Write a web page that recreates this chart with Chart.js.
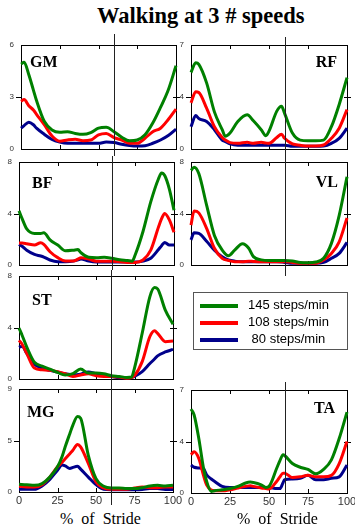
<!DOCTYPE html>
<html lang="en">
<head>
    <meta charset="UTF-8"/>
    <title>Walking at 3 # speeds</title>
    <script src="https://cdn.jsdelivr.net/npm/chart.js"></script>
    <style>
        html, body {
            margin: 0;
            padding: 0;
            background: #fff;
        }

        body {
            width: 355px;
            height: 531px;
            position: relative;
            overflow: hidden;
        }

        .title {
            position: absolute;
            left: 97px;
            top: 3px;
            font: bold 22.5px "Liberation Serif", "Times New Roman", serif;
            white-space: nowrap;
        }

        .panel {
            position: absolute;
        }

        .panel canvas {
            display: block;
        }

        .xlabel {
            position: absolute;
            top: 510px;
            font: 16px "Liberation Serif", "Times New Roman", serif;
            word-spacing: 4px;
            white-space: nowrap;
        }

        .legend {
            position: absolute;
            left: 193px;
            top: 292px;
            width: 155px;
            height: 58px;
            border: 1px solid #555;
            box-sizing: border-box;
            padding-top: 3px;
            font: 13px "Liberation Sans", Arial, sans-serif;
        }

        .legend .row {
            height: 17px;
            line-height: 17px;
            white-space: pre;
        }

        .legend .swatch {
            display: inline-block;
            width: 38px;
            height: 4px;
            margin: 0 10px 0 6px;
            vertical-align: middle;
        }
    </style>
</head>
<body>
<div class="title">Walking at 3 # speeds</div>
<div id="charts"></div>
<div class="legend" id="legend"></div>
<div class="xlabel" style="left:60px;">% of Stride</div>
<div class="xlabel" style="left:237px;">% of Stride</div>

<script>
    // speeds (series) and their colours
    const SPEEDS = ['145 steps/min', '108 steps/min', '80 steps/min'];
    const COLORS = ['#008000', '#ff0000', '#00008b'];
    const STRIDE_TICKS = [0, 25, 50, 75, 100];
    const TOE_OFF = 60;

    // EMG envelopes, % of stride vs activation
    const GM_X = [0, 2, 5, 8, 10, 15, 20, 25, 30, 35, 40, 45, 50, 55, 60, 65, 70, 75, 80, 85, 90, 95, 100];
    const GM_145 = [4.9, 5.0, 4.3, 3.4, 2.8, 1.6, 1.1, 0.97, 1.0, 0.9, 0.85, 0.95, 1.2, 1.25, 1.0, 0.68, 0.47, 0.52, 0.82, 1.5, 2.4, 3.4, 4.8];
    const GM_108 = [2.75, 2.85, 2.5, 2.25, 2.0, 1.4, 0.75, 0.45, 0.52, 0.56, 0.48, 0.52, 0.82, 0.9, 0.66, 0.52, 0.33, 0.33, 0.62, 1.0, 1.2, 1.7, 2.3];
    const GM_80 = [1.2, 1.35, 1.55, 1.4, 1.2, 0.85, 0.55, 0.4, 0.33, 0.33, 0.33, 0.33, 0.33, 0.4, 0.37, 0.27, 0.2, 0.17, 0.19, 0.33, 0.52, 0.78, 1.15];

    const RF_X = [0, 3, 5, 10, 15, 20, 22, 25, 30, 36, 40, 45, 48, 50, 55, 58, 60, 65, 70, 75, 80, 85, 90, 95, 100];
    const RF_145 = [5.15, 5.8, 5.7, 4.45, 2.5, 1.3, 0.85, 1.07, 1.85, 2.3, 1.9, 1.3, 0.9, 1.2, 2.55, 2.88, 2.4, 1.07, 0.6, 0.55, 0.55, 0.6, 1.5, 3.0, 4.8];
    const RF_108 = [3.1, 3.85, 3.8, 2.75, 1.5, 0.77, 0.6, 0.43, 0.38, 0.45, 0.38, 0.45, 0.4, 0.38, 0.77, 1.0, 0.72, 0.34, 0.25, 0.2, 0.2, 0.27, 0.72, 1.4, 2.65];
    const RF_80 = [1.5, 2.25, 2.05, 1.85, 1.3, 0.6, 0.5, 0.34, 0.25, 0.25, 0.25, 0.25, 0.25, 0.25, 0.25, 0.25, 0.25, 0.18, 0.18, 0.18, 0.18, 0.2, 0.38, 0.72, 1.4];

    const BF_X = [0, 2, 5, 10, 14, 16, 20, 25, 30, 35, 38, 40, 45, 50, 55, 60, 65, 70, 73, 75, 80, 85, 90, 92, 94, 97, 100];
    const BF_145 = [4.2, 3.6, 2.8, 2.45, 2.45, 2.5, 1.95, 1.55, 1.1, 1.15, 1.2, 0.95, 0.6, 0.57, 0.6, 0.52, 0.41, 0.35, 0.3, 0.8, 2.6, 4.9, 6.7, 7.15, 6.95, 5.9, 4.25];
    const BF_108 = [1.7, 1.7, 1.65, 1.55, 1.73, 1.6, 1.03, 0.57, 0.31, 0.31, 0.45, 0.57, 0.46, 0.3, 0.3, 0.3, 0.26, 0.2, 0.2, 0.2, 0.39, 1.15, 2.95, 3.6, 4.0, 3.5, 2.55];
    const BF_80 = [1.6, 1.45, 1.15, 0.82, 0.7, 0.62, 0.39, 0.26, 0.26, 0.3, 0.4, 0.46, 0.3, 0.23, 0.23, 0.23, 0.23, 0.23, 0.23, 0.23, 0.3, 0.52, 1.2, 1.5, 1.75, 1.55, 1.55];

    const VL_X = [0, 2, 5, 10, 15, 20, 24, 28, 33, 37, 40, 45, 50, 55, 60, 65, 70, 75, 80, 85, 90, 95, 100];
    const VL_145 = [7.35, 7.6, 7.1, 4.65, 2.3, 1.16, 0.72, 1.16, 1.65, 1.3, 0.65, 0.4, 0.34, 0.34, 0.34, 0.31, 0.2, 0.18, 0.23, 0.52, 1.68, 3.85, 6.85];
    const VL_108 = [3.1, 4.2, 4.05, 2.85, 1.3, 0.52, 0.35, 0.26, 0.26, 0.3, 0.28, 0.26, 0.26, 0.26, 0.26, 0.2, 0.13, 0.13, 0.13, 0.39, 0.9, 1.8, 3.65];
    const VL_80 = [1.95, 2.5, 2.45, 1.85, 1.15, 0.65, 0.4, 0.3, 0.26, 0.26, 0.26, 0.26, 0.26, 0.26, 0.2, 0.13, 0.13, 0.13, 0.13, 0.2, 0.52, 0.9, 1.75];

    const ST_X = [0, 2, 5, 10, 15, 20, 25, 30, 35, 40, 45, 50, 55, 60, 65, 70, 73, 75, 80, 85, 88, 90, 95, 100];
    const ST_145 = [3.95, 3.4, 2.5, 1.3, 1.0, 0.77, 0.51, 0.31, 0.41, 0.77, 0.46, 0.46, 0.41, 0.26, 0.2, 0.12, 0.15, 0.85, 3.55, 6.4, 7.1, 7.0, 5.35, 4.25];
    const ST_108 = [3.0, 2.7, 2.0, 0.85, 0.72, 0.67, 0.57, 0.41, 0.2, 0.31, 0.41, 0.26, 0.2, 0.2, 0.15, 0.05, 0.1, 0.26, 1.35, 3.3, 3.75, 3.55, 2.9, 2.95];
    const ST_80 = [2.45, 2.55, 2.0, 1.15, 0.85, 0.67, 0.54, 0.41, 0.33, 0.38, 0.54, 0.41, 0.28, 0.2, 0.1, 0.1, 0.12, 0.2, 0.57, 1.2, 1.55, 1.8, 2.1, 2.3];

    const MG_X = [0, 5, 10, 15, 20, 25, 28, 30, 33, 35, 38, 40, 45, 50, 55, 60, 65, 70, 75, 80, 85, 90, 95, 100];
    const MG_145 = [0.67, 0.64, 0.58, 0.73, 1.3, 2.2, 3.1, 3.95, 5.1, 5.85, 6.6, 6.45, 3.2, 1.17, 0.5, 0.35, 0.35, 0.3, 0.3, 0.38, 0.53, 0.58, 0.53, 0.58];
    const MG_108 = [0.5, 0.44, 0.44, 0.64, 1.3, 2.2, 2.6, 2.9, 3.35, 3.65, 4.15, 3.95, 2.5, 0.88, 0.35, 0.23, 0.23, 0.23, 0.35, 0.44, 0.38, 0.38, 0.44, 0.44];
    const MG_80 = [0.23, 0.23, 0.23, 0.53, 1.1, 1.9, 2.35, 2.28, 2.05, 2.15, 2.25, 2.0, 1.3, 0.64, 0.23, 0.2, 0.2, 0.2, 0.2, 0.22, 0.3, 0.3, 0.22, 0.22];

    const TA_X = [0, 2, 5, 8, 10, 13, 15, 20, 25, 30, 35, 38, 40, 45, 48, 50, 55, 57, 59, 60, 65, 70, 75, 80, 85, 90, 95, 100];
    const TA_145 = [5.7, 5.3, 3.7, 1.7, 0.8, 0.1, 0.15, 0.22, 0.3, 0.45, 0.68, 0.74, 0.72, 0.56, 0.38, 0.45, 1.7, 2.2, 2.6, 2.55, 2.0, 1.75, 1.6, 1.3, 1.6, 2.25, 3.7, 5.5];
    const TA_108 = [2.6, 2.8, 2.35, 1.2, 0.56, 0.2, 0.15, 0.15, 0.22, 0.34, 0.45, 0.5, 0.45, 0.34, 0.3, 0.27, 0.8, 1.1, 1.35, 1.35, 1.05, 1.1, 1.2, 1.1, 1.1, 1.2, 2.0, 3.5];
    const TA_80 = [1.9, 1.75, 1.7, 1.65, 1.24, 0.95, 0.8, 0.45, 0.38, 0.38, 0.38, 0.38, 0.38, 0.38, 0.38, 0.38, 0.3, 0.3, 0.7, 0.9, 0.95, 1.0, 1.2, 0.9, 0.9, 1.0, 1.1, 1.9];

    // panel placement: canvas box, y-axis width, paddings, name offset
    const PANELS = [
        {name: 'GM', xs: GM_X, ys: [GM_145, GM_108, GM_80], yMax: 6,
            left: 0, top: 34, w: 190, h: 122, axisW: 21, pad: {top: 11, right: 14, bottom: 7}, label: {dx: 9, dy: 22}},
        {name: 'BF', xs: BF_X, ys: [BF_145, BF_108, BF_80], yMax: 8,
            left: 0, top: 156, w: 190, h: 114, axisW: 19, pad: {top: 6, right: 16, bottom: 5}, label: {dx: 13, dy: 26}},
        {name: 'ST', xs: ST_X, ys: [ST_145, ST_108, ST_80], yMax: 8,
            left: 0, top: 270, w: 190, h: 113, axisW: 19, pad: {top: 6, right: 17, bottom: 4}, label: {dx: 13, dy: 29}},
        {name: 'MG', xs: MG_X, ys: [MG_145, MG_108, MG_80], yMax: 9, bottom: true,
            left: 0, top: 383, w: 190, h: 122, axisW: 19, pad: {top: 6, right: 17, bottom: 0}, xAxisH: 13, label: {dx: 8, dy: 28}},
        {name: 'RF', xs: RF_X, ys: [RF_145, RF_108, RF_80], yMax: 7,
            left: 178, top: 37, w: 177, h: 119, axisW: 13, pad: {top: 8, right: 8, bottom: 7}, label: {dx: -10, dy: 22}},
        {name: 'VL', xs: VL_X, ys: [VL_145, VL_108, VL_80], yMax: 8,
            left: 178, top: 156, w: 177, h: 120, axisW: 13, pad: {top: 6, right: 8, bottom: 11}, label: {dx: -9, dy: 25}},
        {name: 'TA', xs: TA_X, ys: [TA_145, TA_108, TA_80], yMax: 7, bottom: true,
            left: 178, top: 382, w: 177, h: 123, axisW: 13, pad: {top: 8, right: 8, bottom: 0}, xAxisH: 12, label: {dx: -12, dy: 23}}
    ];

    const SANS = '"Liberation Sans", Arial, sans-serif';

    // box, inner ticks, muscle name
    const framePlugin = {
        id: 'frame',
        beforeDatasetsDraw(chart, args, opts) {
            const {ctx, chartArea: a} = chart;
            const x = chart.scales.x, y = chart.scales.y;
            ctx.save();
            ctx.strokeStyle = '#000';
            ctx.lineWidth = 1;
            ctx.strokeRect(Math.round(a.left) + 0.5, Math.round(a.top) + 0.5,
                Math.round(a.right - a.left), Math.round(a.bottom - a.top));
            ctx.beginPath();
            [25, 50, 75].forEach(v => {
                const px = Math.round(x.getPixelForValue(v)) + 0.5;
                ctx.moveTo(px, a.top);
                ctx.lineTo(px, a.top + 4);
                ctx.moveTo(px, a.bottom);
                ctx.lineTo(px, a.bottom - 4);
            });
            const mid = Math.round(y.getPixelForValue(y.max / 2)) + 0.5;
            ctx.moveTo(a.left - 5, mid);
            ctx.lineTo(a.left, mid);
            ctx.moveTo(a.right - 3, mid);
            ctx.lineTo(a.right + 4, mid);
            ctx.stroke();

            ctx.fillStyle = '#000';
            ctx.font = 'bold 16px "Liberation Serif", "Times New Roman", serif';
            ctx.textBaseline = 'alphabetic';
            if (opts.dx >= 0) {
                ctx.textAlign = 'left';
                ctx.fillText(opts.name, a.left + opts.dx, a.top + opts.dy);
            } else {
                ctx.textAlign = 'right';
                ctx.fillText(opts.name, a.right + opts.dx, a.top + opts.dy);
            }
            ctx.restore();
        },
        afterDatasetsDraw(chart) {
            // toe-off marker runs the full height of the canvas
            const {ctx} = chart;
            const px = Math.round(chart.scales.x.getPixelForValue(TOE_OFF)) + 0.5;
            ctx.save();
            ctx.strokeStyle = '#222';
            ctx.lineWidth = 1;
            ctx.beginPath();
            ctx.moveTo(px, 0);
            ctx.lineTo(px, chart.height);
            ctx.stroke();
            ctx.restore();
        }
    };

    const holder = document.getElementById('charts');

    PANELS.forEach(p => {
        const div = document.createElement('div');
        div.className = 'panel';
        div.style.left = p.left + 'px';
        div.style.top = p.top + 'px';
        const canvas = document.createElement('canvas');
        canvas.width = p.w;
        canvas.height = p.h;
        div.appendChild(canvas);
        holder.appendChild(div);

        new Chart(canvas, {
            type: 'line',
            data: {
                datasets: p.ys.map((vals, i) => ({
                    label: SPEEDS[i],
                    data: vals.map((v, k) => ({x: p.xs[k], y: v})),
                    borderColor: COLORS[i],
                    borderWidth: 3,
                    pointRadius: 0,
                    fill: false,
                    cubicInterpolationMode: 'monotone',
                    clip: false
                }))
            },
            options: {
                responsive: false,
                animation: false,
                events: [],
                layout: {padding: {left: 0, top: p.pad.top, right: p.pad.right, bottom: p.pad.bottom}},
                plugins: {
                    legend: {display: false},
                    tooltip: {enabled: false},
                    frame: {name: p.name, dx: p.label.dx, dy: p.label.dy}
                },
                scales: {
                    x: {
                        type: 'linear',
                        min: 0,
                        max: 100,
                        display: !!p.bottom,
                        afterBuildTicks: s => { s.ticks = STRIDE_TICKS.map(v => ({value: v})); },
                        afterFit: s => {
                            if (p.bottom) s.height = p.xAxisH;
                            s.paddingLeft = 0;
                            s.paddingRight = 0;
                        },
                        grid: {display: false, drawTicks: false},
                        border: {display: false},
                        ticks: {
                            font: {size: 11, family: SANS},
                            color: '#333',
                            padding: 2,
                            maxRotation: 0,
                            autoSkip: false
                        }
                    },
                    y: {
                        type: 'linear',
                        min: 0,
                        max: p.yMax,
                        afterBuildTicks: s => { s.ticks = [0, p.yMax / 2, p.yMax].map(v => ({value: v})); },
                        afterFit: s => {
                            s.width = p.axisW;
                            s.paddingTop = 0;
                            s.paddingBottom = 0;
                        },
                        grid: {display: false, drawTicks: false},
                        border: {display: false},
                        ticks: {
                            font: {size: 8, family: SANS},
                            color: '#333',
                            padding: 7,
                            callback: v => Math.round(v)
                        }
                    }
                }
            },
            plugins: [framePlugin]
        });
    });

    // legend
    const legend = document.getElementById('legend');
    const longest = Math.max(...SPEEDS.map(s => s.length));
    SPEEDS.forEach((s, i) => {
        const row = document.createElement('div');
        row.className = 'row';
        const sw = document.createElement('span');
        sw.className = 'swatch';
        sw.style.background = COLORS[i];
        row.appendChild(sw);
        row.appendChild(document.createTextNode(s.padStart(longest, ' ')));
        legend.appendChild(row);
    });
</script>
</body>
</html>
